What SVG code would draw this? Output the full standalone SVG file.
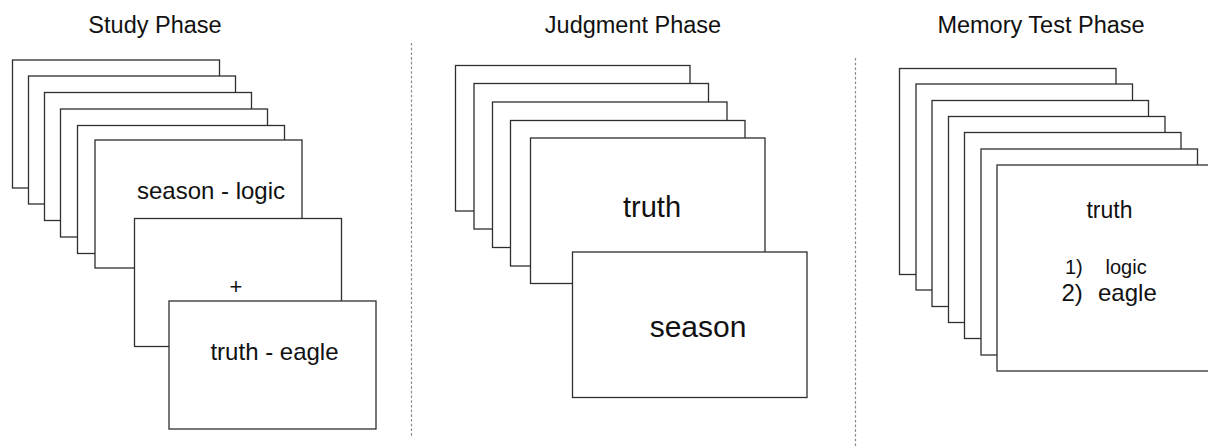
<svg xmlns="http://www.w3.org/2000/svg" width="1208" height="447" viewBox="0 0 1208 447">
<style>
  .card { fill: #ffffff; stroke: #2e2e2e; stroke-width: 1.3; }
  .t { font-family: "Liberation Sans", Arial, sans-serif; fill: #111111; }
  .title { font-size: 23.5px; text-anchor: middle; }
  .div { stroke: #8a8a8a; stroke-width: 1.2; stroke-dasharray: 2.6 2.1; fill: none; }
</style>
<rect width="1208" height="447" fill="#ffffff"/>
<g id="titles">
  <text class="t title" x="155" y="33">Study Phase</text>
  <text class="t title" x="633" y="33">Judgment Phase</text>
  <text class="t title" x="1041" y="33">Memory Test Phase</text>
</g>
<g id="connectors">
  <line class="div" x1="411.5" y1="43" x2="411.5" y2="438"/>
  <line class="div" x1="855.5" y1="58" x2="855.5" y2="447"/>
</g>
<g id="study-phase">
  <rect class="card" x="12.5" y="60" width="207" height="128"/>
  <rect class="card" x="28.5" y="76" width="207" height="128"/>
  <rect class="card" x="44.5" y="92.5" width="207" height="128"/>
  <rect class="card" x="60.5" y="109" width="207" height="128"/>
  <rect class="card" x="77.5" y="125.5" width="207" height="128"/>
  <rect class="card" x="95" y="140" width="207" height="128"/>
  <text class="t" x="211" y="198.5" font-size="24" text-anchor="middle">season - logic</text>
  <rect class="card" x="134.5" y="218.5" width="207" height="128"/>
  <text class="t" x="236" y="293.5" font-size="22" text-anchor="middle">+</text>
  <rect class="card" x="169" y="301" width="207" height="128"/>
  <text class="t" x="274.5" y="360" font-size="24" text-anchor="middle">truth - eagle</text>
</g>
<g id="judgment-phase">
  <rect class="card" x="455.5" y="65.5" width="234.5" height="145.5"/>
  <rect class="card" x="474" y="83.5" width="234.5" height="145.5"/>
  <rect class="card" x="492.5" y="102" width="234.5" height="145.5"/>
  <rect class="card" x="510.5" y="120.5" width="234.5" height="145.5"/>
  <rect class="card" x="530.5" y="138" width="234.5" height="145.5"/>
  <text class="t" x="652" y="216.5" font-size="29" text-anchor="middle">truth</text>
  <rect class="card" x="572.5" y="252" width="234.5" height="145.5"/>
  <text class="t" x="698" y="336.5" font-size="30" text-anchor="middle">season</text>
</g>
<g id="memory-test-phase">
  <rect class="card" x="899.5" y="68.5" width="216.5" height="206"/>
  <rect class="card" x="916" y="84" width="216.5" height="206"/>
  <rect class="card" x="932" y="100.5" width="216.5" height="206"/>
  <rect class="card" x="948.5" y="116.5" width="216.5" height="206"/>
  <rect class="card" x="964.5" y="132.5" width="216.5" height="206"/>
  <rect class="card" x="981" y="149" width="216.5" height="206"/>
  <rect class="card" x="997" y="165" width="216.5" height="206"/>
  <text class="t" x="1109.5" y="218" font-size="23" text-anchor="middle">truth</text>
  <text class="t" x="1065" y="273.5" font-size="20">1)</text>
  <text class="t" x="1105.5" y="273.5" font-size="20">logic</text>
  <text class="t" x="1061.5" y="301" font-size="24">2)</text>
  <text class="t" x="1098" y="301" font-size="24">eagle</text>
</g>
</svg>
